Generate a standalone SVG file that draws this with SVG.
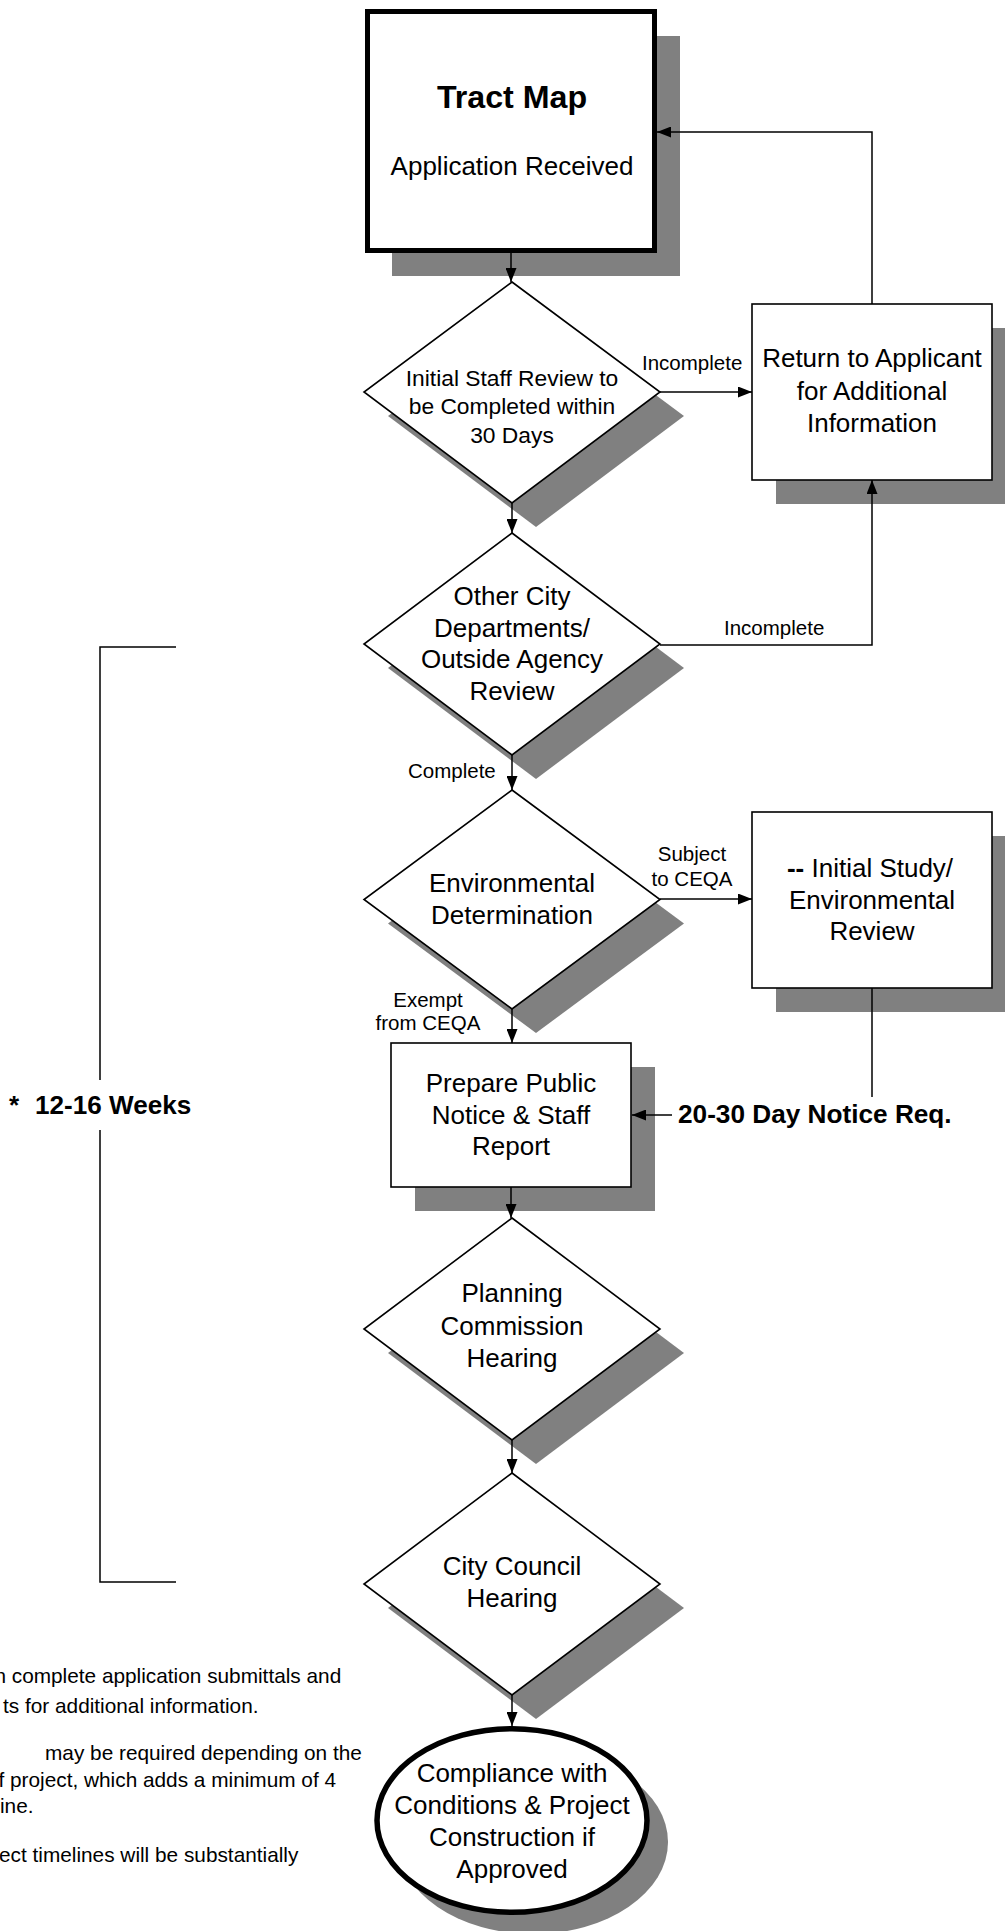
<svg xmlns="http://www.w3.org/2000/svg" width="1005" height="1931" viewBox="0 0 1005 1931">
<style>
text{font-family:"Liberation Sans",Arial,Helvetica,sans-serif;fill:#000}
.n{font-size:26px;text-anchor:middle}
.t{font-size:32.2px;font-weight:bold;text-anchor:middle}
.s{font-size:22.8px;text-anchor:middle}
.lbl{font-size:20.5px}
.lblm{font-size:20.5px;text-anchor:middle}
.b{font-weight:bold}
.note{font-size:20.8px}
.box{fill:#fff;stroke:#000;stroke-width:1.6}
.sh{fill:#808080;stroke:none}
.con{fill:none;stroke:#000;stroke-width:1.5}
</style>
<defs>
<marker id="ah" markerWidth="14" markerHeight="11" refX="14" refY="5.5" orient="auto" markerUnits="userSpaceOnUse"><path d="M0,0 L14,5.5 L0,11 z" fill="#000"/></marker>
</defs>
<rect x="0" y="0" width="1005" height="1931" fill="#fff"/>

<g id="bracket">
<path class="con" d="M176,647 H100 V1582 H176"/>
<rect x="4" y="1080" width="192" height="50" fill="#fff"/>
<text class="b" font-size="26.1" x="9" y="1114">*<tspan x="35">12-16 Weeks</tspan></text>
</g>

<g id="tract-map">
<rect class="sh" x="392" y="36" width="288" height="240"/>
<rect x="367.5" y="11.5" width="287" height="239" fill="#fff" stroke="#000" stroke-width="5"/>
<text class="t" x="512" y="108">Tract Map</text>
<text class="n" x="512" y="175">Application Received</text>
</g>

<g id="initial-staff-review">
<polygon class="sh" points="536,306 684,416 536,527 388,416"/>
<polygon class="box" points="512,282 660,392 512,503 364,392"/>
<text class="s" x="512" y="386">Initial Staff Review to</text>
<text class="s" x="512" y="414">be Completed within</text>
<text class="s" x="512" y="443">30 Days</text>
</g>

<g id="return-to-applicant">
<rect class="sh" x="776" y="328" width="240" height="176"/>
<rect class="box" x="752" y="304" width="240" height="176"/>
<text class="n" x="872" y="367">Return to Applicant</text>
<text class="n" x="872" y="400">for Additional</text>
<text class="n" x="872" y="432">Information</text>
</g>

<g id="other-city-departments">
<polygon class="sh" points="536,557 684,668 536,779 388,668"/>
<polygon class="box" points="512,533 660,644 512,755 364,644"/>
<text class="n" x="512" y="605">Other City</text>
<text class="n" x="512" y="636.5">Departments/</text>
<text class="n" x="512" y="668">Outside Agency</text>
<text class="n" x="512" y="700">Review</text>
</g>

<g id="environmental-determination">
<polygon class="sh" points="536,814 684,923.5 536,1033 388,923.5"/>
<polygon class="box" points="512,790 660,899.5 512,1009 364,899.5"/>
<text class="n" x="512" y="892">Environmental</text>
<text class="n" x="512" y="923.5">Determination</text>
</g>

<g id="initial-study">
<rect class="sh" x="776" y="836" width="240" height="176"/>
<rect class="box" x="752" y="812" width="240" height="176"/>
<text class="n" x="870" y="877"><tspan class="b">--</tspan> Initial Study/</text>
<text class="n" x="872" y="908.5">Environmental</text>
<text class="n" x="872" y="939.5">Review</text>
</g>

<g id="prepare-public-notice">
<rect class="sh" x="415" y="1067" width="240" height="144"/>
<rect class="box" x="391" y="1043" width="240" height="144"/>
<text class="n" x="511" y="1092">Prepare Public</text>
<text class="n" x="511" y="1123.5">Notice &amp; Staff</text>
<text class="n" x="511" y="1155">Report</text>
</g>

<g id="planning-commission">
<polygon class="sh" points="536,1242 684,1353 536,1464 388,1353"/>
<polygon class="box" points="512,1218 660,1329 512,1440 364,1329"/>
<text class="n" x="512" y="1302">Planning</text>
<text class="n" x="512" y="1335">Commission</text>
<text class="n" x="512" y="1367">Hearing</text>
</g>

<g id="city-council">
<polygon class="sh" points="536,1497 684,1608 536,1719 388,1608"/>
<polygon class="box" points="512,1473 660,1584 512,1695 364,1584"/>
<text class="n" x="512" y="1575">City Council</text>
<text class="n" x="512" y="1607">Hearing</text>
</g>

<g id="compliance">
<ellipse class="sh" cx="533" cy="1842" rx="135" ry="92"/>
<ellipse cx="512" cy="1820.5" rx="135" ry="91.8" fill="#fff" stroke="#000" stroke-width="5.5"/>
<text class="n" x="512" y="1782">Compliance with</text>
<text class="n" x="512" y="1813.5">Conditions &amp; Project</text>
<text class="n" x="512" y="1846">Construction if</text>
<text class="n" x="512" y="1878">Approved</text>
</g>

<g id="connectors">
<path class="con" d="M511,253 V282" marker-end="url(#ah)"/>
<path class="con" d="M660,392 H752" marker-end="url(#ah)"/>
<path class="con" d="M872,304 V132 H657" marker-end="url(#ah)"/>
<path class="con" d="M512,503 V533" marker-end="url(#ah)"/>
<path class="con" d="M660,645 H872 V480" marker-end="url(#ah)"/>
<path class="con" d="M512,755 V790" marker-end="url(#ah)"/>
<path class="con" d="M660,899 H752" marker-end="url(#ah)"/>
<path class="con" d="M512,1009 V1043" marker-end="url(#ah)"/>
<path class="con" d="M872,988 V1097"/>
<path class="con" d="M672,1115 H632" marker-end="url(#ah)"/>
<path class="con" d="M511,1187 V1218" marker-end="url(#ah)"/>
<path class="con" d="M512,1440 V1473" marker-end="url(#ah)"/>
<path class="con" d="M512,1695 V1726" marker-end="url(#ah)"/>
<text class="lbl" x="642" y="370">Incomplete</text>
<text class="lbl" x="724" y="635">Incomplete</text>
<text class="lbl" x="408" y="778">Complete</text>
<text class="lblm" x="692" y="861">Subject</text>
<text class="lblm" x="692" y="886">to CEQA</text>
<text class="lblm" x="428" y="1007">Exempt</text>
<text class="lblm" x="428" y="1030">from CEQA</text>
<text class="b" font-size="26.2" x="678" y="1123">20-30 Day Notice Req.</text>
</g>

<g id="footnotes">
<text class="note" x="-5.6" y="1683">n complete application submittals and</text>
<text class="note" x="3" y="1713">ts for additional information.</text>
<text class="note" x="45" y="1760">may be required depending on the</text>
<text class="note" x="-1.5" y="1787">f project, which adds a minimum of 4</text>
<text class="note" x="0" y="1813">ine.</text>
<text class="note" x="-1" y="1862">ect timelines will be substantially</text>
</g>
</svg>
